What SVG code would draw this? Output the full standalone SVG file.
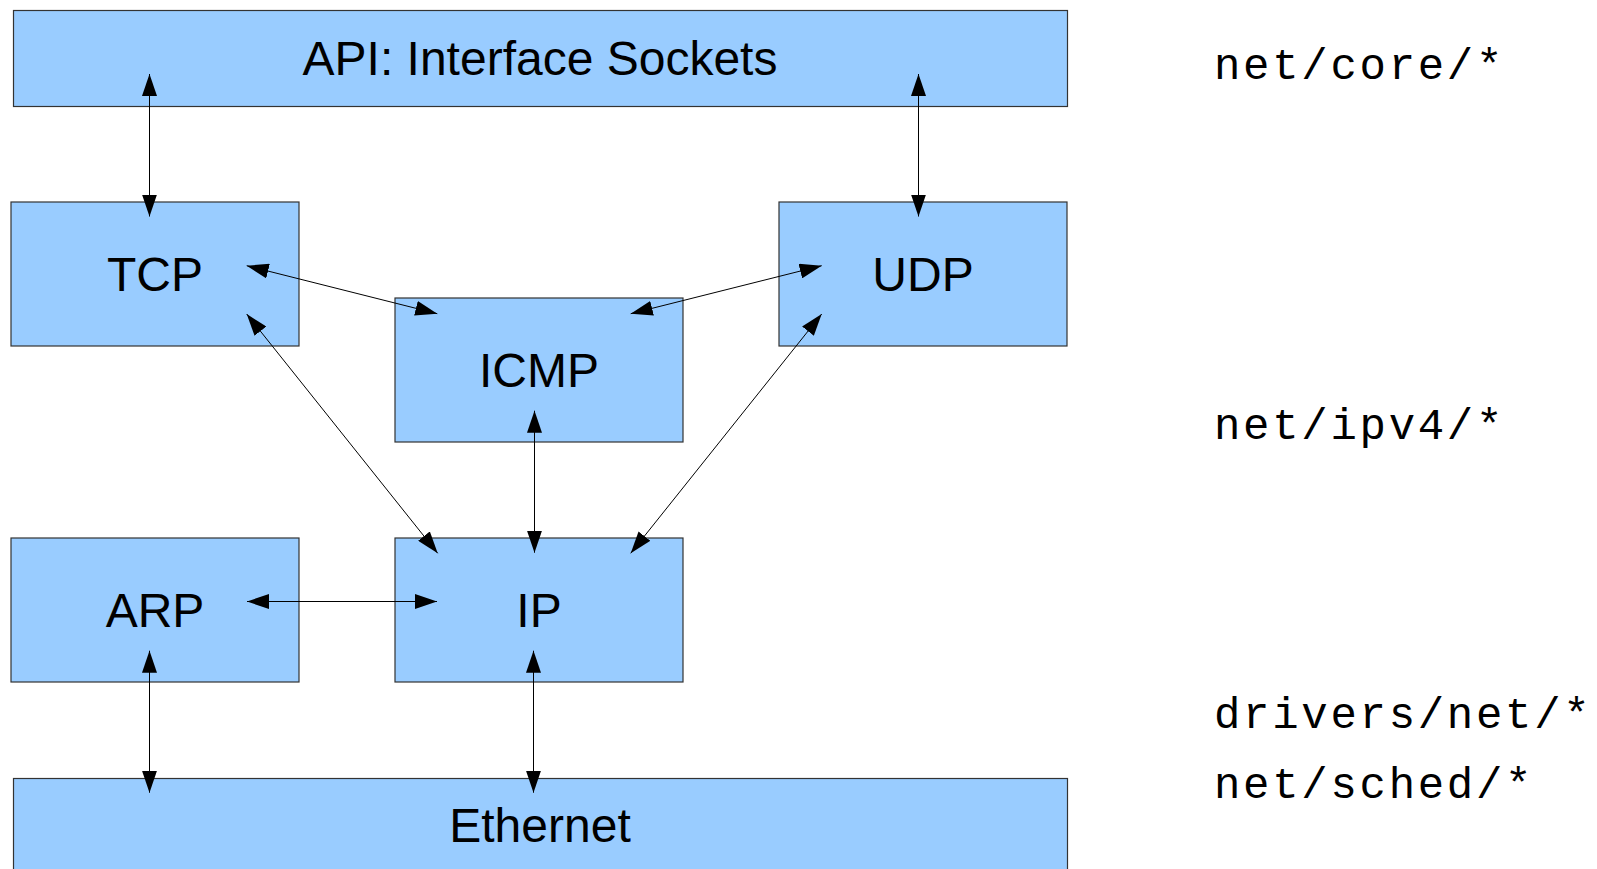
<svg xmlns="http://www.w3.org/2000/svg" width="1597" height="869" viewBox="0 0 1597 869">
<style>
.box{fill:#99ccff;stroke:#333;stroke-width:1.2}
.lbl{font-family:"Liberation Sans",Arial,sans-serif;font-size:48px;fill:#000;text-anchor:middle}
.path{font-family:"Liberation Mono","Courier New",monospace;font-size:44px;letter-spacing:2.7px;fill:#000}
.conn line{stroke:#000;stroke-width:1;marker-start:url(#ah);marker-end:url(#ah)}
</style>
<defs>
<marker id="ah" markerUnits="userSpaceOnUse" markerWidth="22" markerHeight="15" refX="22" refY="7.5" orient="auto-start-reverse" viewBox="0 0 22 15">
<path d="M0,0 L22,7.5 L0,15 z" fill="#000"/>
</marker>
</defs>
<rect width="1597" height="869" fill="#fff"/>
<g id="api"><rect class="box" x="13.5" y="10.5" width="1054" height="96"/><text class="lbl" x="540" y="75">API: Interface Sockets</text></g>
<g id="tcp"><rect class="box" x="11" y="202" width="288" height="144"/><text class="lbl" x="155" y="291">TCP</text></g>
<g id="udp"><rect class="box" x="779" y="202" width="288" height="144"/><text class="lbl" x="923" y="291">UDP</text></g>
<g id="icmp"><rect class="box" x="395" y="298" width="288" height="144"/><text class="lbl" x="539" y="387">ICMP</text></g>
<g id="arp"><rect class="box" x="11" y="538" width="288" height="144"/><text class="lbl" x="155" y="627">ARP</text></g>
<g id="ip"><rect class="box" x="395" y="538" width="288" height="144"/><text class="lbl" x="539" y="627">IP</text></g>
<g id="ethernet"><rect class="box" x="13.5" y="778.5" width="1054" height="100"/><text class="lbl" x="540" y="842">Ethernet</text></g>
<g class="conn">
<line x1="149.5" y1="74" x2="149.5" y2="216.5"/>
<line x1="918.5" y1="74" x2="918.5" y2="216.5"/>
<line x1="246.7" y1="265.7" x2="437.3" y2="313.7"/>
<line x1="630.7" y1="313.7" x2="821.7" y2="265.7"/>
<line x1="246.7" y1="314" x2="437.7" y2="553.3"/>
<line x1="821.7" y1="314" x2="630.7" y2="553.3"/>
<line x1="534.5" y1="410.7" x2="534.5" y2="552.7"/>
<line x1="247" y1="601.5" x2="437" y2="601.5"/>
<line x1="149.5" y1="650.7" x2="149.5" y2="792.7"/>
<line x1="533.5" y1="650.7" x2="533.5" y2="792.7"/>
</g>
<g id="paths">
<text class="path" x="1214" y="79.3">net/core/*</text>
<text class="path" x="1214" y="439.3">net/ipv4/*</text>
<text class="path" x="1214" y="728.3">drivers/net/*</text>
<text class="path" x="1214" y="798.3">net/sched/*</text>
</g>
</svg>
